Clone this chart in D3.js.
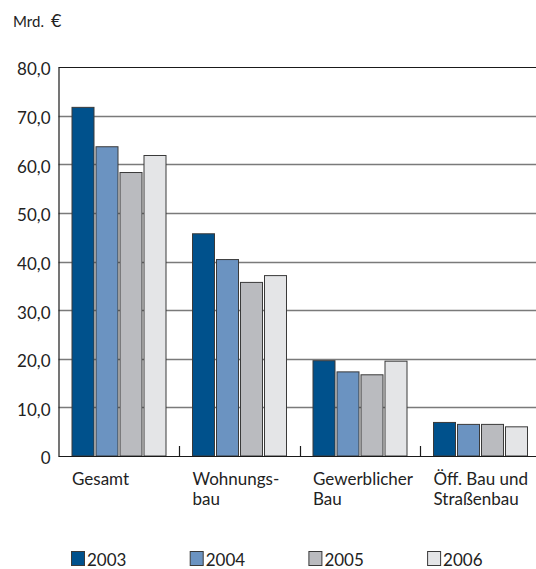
<!DOCTYPE html>
<html><head><meta charset="utf-8">
<script src="https://cdn.jsdelivr.net/npm/d3@7"></script>
<style>
html,body{margin:0;padding:0;background:#fff;}
svg{display:block;font-family:Lato, "Open Sans", sans-serif;}
</style></head>
<body>
<svg id="chart" width="536" height="569"></svg>
<script>
const categories = ["Gesamt", "Wohnungs-\nbau", "Gewerblicher\nBau", "Öff. Bau und\nStraßenbau"];
const years = ["2003", "2004", "2005", "2006"];
const values2003 = [71.7, 45.7, 19.6, 6.9];
const values2004 = [63.6, 40.4, 17.3, 6.5];
const values2005 = [58.3, 35.7, 16.7, 6.5];
const values2006 = [61.8, 37.1, 19.5, 6.0];
const yTicks = [0, 10, 20, 30, 40, 50, 60, 70, 80];
const colors = ["#00518c", "#6b93c1", "#babbbf", "#e4e5e7"];
const unitLabel = ["Mrd.", "€"];

const series = [values2003, values2004, values2005, values2006];
const svg = d3.select("#chart");
const mLeft = 58.5, mTop = 67, mBottom = 456, mRight = 536;
const fs = 17;

const y = d3.scaleLinear().domain([0, 80]).range([mBottom, mTop]);
const x0 = d3.scaleBand().domain(categories).range([mLeft, mLeft + 4 * 120.5]);
const x1 = d3.scaleBand().domain(years).range([13, 109]);
const barW = 22;

// gridlines
svg.append("g").selectAll("line").data(yTicks.filter(t => t > 0 && t < 80)).join("line")
  .attr("x1", mLeft).attr("x2", mRight)
  .attr("y1", d => Math.round(y(d)) + 0.5).attr("y2", d => Math.round(y(d)) + 0.5)
  .attr("stroke", "#7a7a7a").attr("stroke-width", 1.3);
// top line
svg.append("line").attr("x1", mLeft).attr("x2", mRight)
  .attr("y1", Math.round(y(80)) + 0.5).attr("y2", Math.round(y(80)) + 0.5)
  .attr("stroke", "#1a1a1a").attr("stroke-width", 1.2);

// bars
const groups = svg.append("g").selectAll("g").data(categories).join("g")
  .attr("transform", c => `translate(${x0(c)},0)`);
groups.selectAll("rect").data((c, i) => years.map((yr, j) => ({yr, j, v: series[j][i]}))).join("rect")
  .attr("x", d => x1(d.yr) + 0.5)
  .attr("y", d => y(d.v))
  .attr("width", barW)
  .attr("height", d => y(0) - y(d.v))
  .attr("fill", d => colors[d.j])
  .attr("stroke", "#3a3a3a").attr("stroke-width", 1);

// axes
const yAxis = d3.axisLeft(y).tickValues(yTicks).tickSize(0)
  .tickFormat(d => d === 0 ? "0" : d3.format(".1f")(d).replace(".", ","));
const gy = svg.append("g").attr("transform", `translate(${mLeft},0)`).call(yAxis);
gy.select(".domain").attr("stroke", "#1a1a1a").attr("stroke-width", 1.2);
gy.selectAll("text").attr("x", -8).attr("dy", "0.7em").attr("y", -4)
  .attr("font-size", fs).attr("fill", "#222").attr("font-family", "Lato, sans-serif");

svg.append("line").attr("x1", mLeft).attr("x2", mRight).attr("y1", mBottom + 0.5).attr("y2", mBottom + 0.5)
  .attr("stroke", "#1a1a1a").attr("stroke-width", 1.2);

// category separator ticks
svg.append("g").selectAll("line").data(categories.slice(1)).join("line")
  .attr("x1", c => Math.round(x0(c)) + 0.5).attr("x2", c => Math.round(x0(c)) + 0.5)
  .attr("y1", mBottom).attr("y2", mBottom - 10)
  .attr("stroke", "#1a1a1a").attr("stroke-width", 1.2);

// category labels
svg.append("g").selectAll("text").data(categories).join("text")
  .attr("x", c => x0(c) + 13.5).attr("y", 485)
  .attr("font-size", fs).attr("fill", "#222")
  .each(function(c) {
    const lines = c.split("\n");
    d3.select(this).selectAll("tspan").data(lines).join("tspan")
      .attr("x", x0(c) + 13.5).attr("dy", (d, i) => i === 0 ? 0 : 20).text(d => d);
  });

// unit label
const ul = svg.append("text").attr("x", 13).attr("y", 27).attr("font-size", 15).attr("fill", "#222");
ul.append("tspan").text(unitLabel[0]);
ul.append("tspan").attr("dx", 7).attr("font-size", 18).text(unitLabel[1]);

// legend
const lg = svg.append("g").selectAll("g").data(years).join("g")
  .attr("transform", (d, i) => `translate(${71 + i * 118.7},551)`);
lg.append("rect").attr("x", 0.5).attr("y", 0.5).attr("width", 13).attr("height", 14)
  .attr("fill", (d, i) => colors[i]).attr("stroke", "#3a3a3a").attr("stroke-width", 1);
lg.append("text").attr("x", 16).attr("y", 15).attr("font-size", fs).attr("fill", "#222").text(d => d);
</script>
</body></html>
